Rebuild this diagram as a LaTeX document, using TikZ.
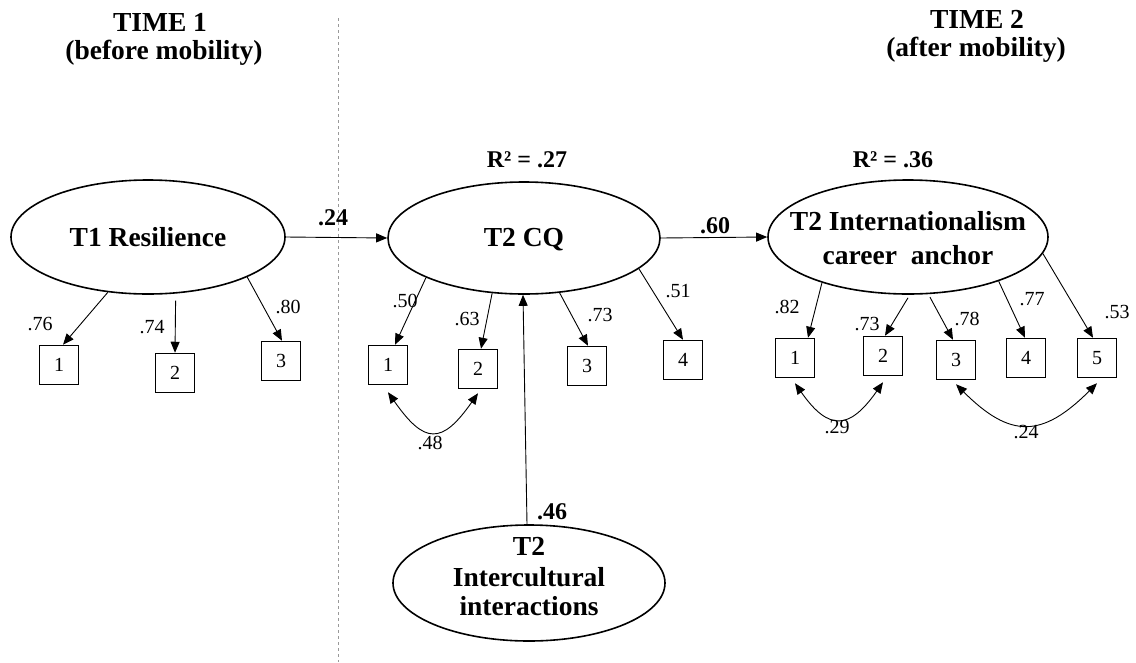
\documentclass[tikz,border=0pt]{standalone}
\usepackage{fontspec}
\setmainfont{Liberation Serif}
\usetikzlibrary{shapes.geometric,arrows.meta}
\begin{document}
\begin{tikzpicture}[x=1pt,y=1pt,
  lat/.style={ellipse,draw,line width=1.6pt,inner sep=0pt},
  ltxt/.style={anchor=base,inner sep=0pt,font=\bfseries\fontsize{27.5}{32}\selectfont},
  obs/.style={draw,line width=1.5pt,minimum width=39pt,minimum height=39pt,inner sep=0pt,font=\fontsize{20}{24}\selectfont},
  path/.style={-{Triangle[length=11pt,width=9pt]},line width=0.9pt},
  cov/.style={{Triangle[length=11pt,width=9pt]}-{Triangle[length=11pt,width=9pt]},line width=0.9pt},
  lbl/.style={inner sep=0pt,font=\fontsize{20}{24}\selectfont},
  blbl/.style={inner sep=0pt,font=\bfseries\fontsize{24}{28}\selectfont},
  rsq/.style={anchor=base,inner sep=0pt,font=\bfseries\fontsize{24}{28}\selectfont}]
\useasboundingbox (0,0) rectangle (1136,-662);
% divider
\draw[gray!80,line width=0.8pt,dash pattern=on 3pt off 3pt] (338,-18) -- (338,-662);
% headers
\node[ltxt] (h1a) at (160,-31) {TIME 1};
\node[ltxt] (h1b) at (164,-59) {(before mobility)};
\node[ltxt] (h2a) at (977,-28) {TIME 2};
\node[ltxt] (h2b) at (976,-56) {(after mobility)};
% latent variables
\node[lat,minimum width=274pt,minimum height=114pt] (res) at (148,-237) {};
\node[ltxt] (rest) at (148,-246) {T1 Resilience};
\node[lat,minimum width=272pt,minimum height=112pt] (cq) at (524,-238) {};
\node[ltxt] (cqt) at (524,-246) {T2 CQ};
\node[lat,minimum width=280pt,minimum height=114pt] (ia) at (908,-237) {};
\node[ltxt] (iat1) at (908,-230) {T2 Internationalism};
\node[ltxt] (iat2) at (908,-264) {career\ \ anchor};
\node[lat,minimum width=272pt,minimum height=116pt] (ic) at (529,-583) {};
\node[ltxt] (ict1) at (529,-555) {T2};
\node[ltxt] (ict2) at (529,-586) {Intercultural};
\node[ltxt] (ict3) at (529,-615) {interactions};
% R squared
\node[rsq] (r2cq) at (527,-167) {R² = .27};
\node[rsq] (r2ia) at (893,-167) {R² = .36};
% indicators
\node[obs] (r1) at (59,-365) {1};
\node[obs] (r2) at (175,-373) {2};
\node[obs] (r3) at (281,-361) {3};
\node[obs] (c1) at (388,-365) {1};
\node[obs] (c2) at (478,-369) {2};
\node[obs] (c3) at (587,-366) {3};
\node[obs] (c4) at (683,-360) {4};
\node[obs] (i1) at (795,-358) {1};
\node[obs] (i2) at (883,-356) {2};
\node[obs] (i3) at (956,-360) {3};
\node[obs] (i4) at (1026,-358) {4};
\node[obs] (i5) at (1097,-358) {5};
% structural paths
\draw[path] (res.east) -- (cq.west);
\draw[path] (cq.east) -- (ia.west);
\draw[path] ([xshift=-2pt]ic.north) -- ([xshift=-1pt]cq.south);
\node[blbl] (l24) at (333,-218) {.24};
\node[blbl] (l60) at (715,-226) {.60};
\node[blbl] (l46) at (552,-512) {.46};
% loadings T1
\draw[path] (res.-126) -- ([xshift=4pt]r1.north);
\draw[path] ([yshift=-7pt]res.-64) -- (r2.north);
\draw[path] (res.-22) -- ([xshift=1pt]r3.north);
\node[lbl] (lr1) at (40,-324) {.76};
\node[lbl] (lr2) at (152,-327) {.74};
\node[lbl] (lr3) at (288,-307) {.80};
% loadings CQ
\draw[path] (cq.-158) -- ([xshift=7pt]c1.north);
\draw[path] (cq.-120) -- ([xshift=3pt]c2.north);
\draw[path] (cq.-57) -- ([xshift=1pt]c3.north);
\draw[path] (cq.-15) -- (c4.north);
\node[lbl] (lc1) at (405,-301) {.50};
\node[lbl] (lc2) at (467,-319) {.63};
\node[lbl] (lc3) at (600,-315) {.73};
\node[lbl] (lc4) at (678,-291) {.51};
% loadings IA
\draw[path] (ia.-152) -- ([xshift=13pt]i1.north);
\draw[path] ([yshift=-3pt]ia.south) -- ([xshift=2pt]i2.north);
\draw[path] ([yshift=-3pt]ia.-69) -- ([xshift=-3pt]i3.north);
\draw[path] (ia.-26) -- ([xshift=-1pt]i4.north);
\draw[path] (ia.-7) -- ([xshift=-4pt]i5.north);
\node[lbl] (li1) at (787,-307) {.82};
\node[lbl] (li2) at (867,-324) {.73};
\node[lbl] (li3) at (967,-319) {.78};
\node[lbl] (li4) at (1032,-299) {.77};
\node[lbl] (li5) at (1117,-312) {.53};
% covariances
\draw[cov] ([yshift=-7pt]c1.south) to[out=-55,in=-125,looseness=1.8] ([yshift=-4pt]c2.south);
\node[lbl] (lcov1) at (430,-443) {.48};
\draw[cov] ([yshift=-5pt]i1.south) to[out=-55,in=-125,looseness=1.7] ([yshift=-6pt]i2.south);
\node[lbl] (lcov2) at (837,-427) {.29};
\draw[cov] ([yshift=-4pt]i3.south) to[out=-45,in=-135,looseness=1.4] ([yshift=-5pt]i5.south);
\node[lbl] (lcov3) at (1026,-432) {.24};
\end{tikzpicture}
\end{document}
